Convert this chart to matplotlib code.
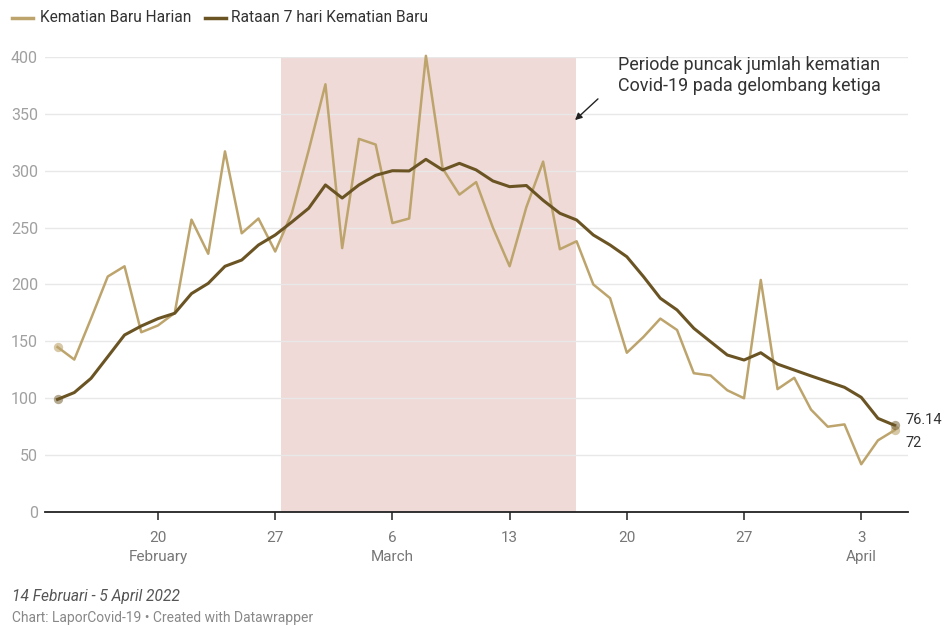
import numpy as np
import pandas as pd
import matplotlib as mpl
mpl.use('Agg')
import matplotlib.pyplot as plt
import matplotlib.dates as mdates

## data (14 Feb - 5 Apr 2022)
dates = pd.date_range('2022-02-14', '2022-04-05', freq='D')
daily = [145, 134, 170, 207, 216, 158, 164, 175, 257, 227,
         317, 245, 258, 229, 263, 318, 376, 232, 328, 323,
         254, 258, 401, 302, 279, 290, 250, 216, 268, 308,
         231, 238, 200, 188, 140, 154, 170, 160, 122, 120,
         107, 100, 204, 108, 118, 90, 75, 77, 42, 63,
         72]
avg7 = [99, 105, 117.5, 136.5, 155.6, 163.5, 170, 174.7, 192, 201,
        216, 221.5, 234.7, 243.5, 255, 267, 287.5, 276, 287.5, 296,
        300, 299.8, 310, 300.7, 306.5, 300.7, 291, 286, 287, 274,
        262.6, 256.7, 243.5, 234.7, 224.4, 206.8, 187.9, 177.6, 161.5, 149.7,
        138, 133.6, 140, 130, 124.8, 119.6, 114.6, 109.6, 100.8, 82.3,
        76.14]
peak_start = pd.Timestamp('2022-02-27 08:00')
peak_end = pd.Timestamp('2022-03-16 23:00')
yticks = [0, 50, 100, 150, 200, 250, 300, 350, 400]
xticks = ['2022-02-20', '2022-02-27', '2022-03-06', '2022-03-13',
          '2022-03-20', '2022-03-27', '2022-04-03']
xlabels = ['20\nFebruary', '27', '6\nMarch', '13', '20', '27', '3\nApril']

light = '#bda46c'
dark = '#6b5424'
shade = '#efdad7'

plt.rcParams['font.family'] = ['Roboto', 'DejaVu Sans']

fig = plt.figure(figsize=(9.47, 6.26), dpi=100)
ax = fig.add_axes([0.0475, 0.1821, 0.9113, 0.7269])

ax.axvspan(peak_start, peak_end, color=shade, lw=0, zorder=0)
for v in yticks[1:]:
    ax.axhline(v, color='#e8e8e8', lw=1, zorder=1)

ax.plot(dates, daily, color=light, lw=1.8, zorder=3, clip_on=False)
ax.plot(dates, avg7, color=dark, lw=2.2, zorder=4, clip_on=False)
# end point dots
ax.scatter([dates[0], dates[-1]], [daily[0], daily[-1]], s=45, color=light, alpha=0.6, lw=0, zorder=5, clip_on=False)
ax.scatter([dates[0], dates[-1]], [avg7[0], avg7[-1]], s=45, color=dark, alpha=0.5, lw=0, zorder=5, clip_on=False)

ax.set_xlim(dates[0] - pd.Timedelta(hours=18), dates[-1] + pd.Timedelta(hours=19))
ax.set_ylim(0, 400)
ax.set_yticks(yticks)
ax.set_yticklabels([str(v) for v in yticks], color='#a0a0a0', fontsize=11.5)
ax.tick_params(axis='y', length=0, pad=5)
ax.set_xticks(pd.to_datetime(xticks))
ax.set_xticklabels(xlabels, color='#777777', fontsize=11, linespacing=1.45)
ax.tick_params(axis='x', length=6, width=1.2, color='#333333', pad=8)
for s in ['top', 'right', 'left']:
    ax.spines[s].set_visible(False)
ax.spines['bottom'].set_color('#222222')
ax.spines['bottom'].set_linewidth(1.3)

# end labels
ax.annotate('76.14', (dates[-1], avg7[-1]), xytext=(8, 4), textcoords='offset points',
            fontsize=10.5, color='#333333', va='center', annotation_clip=False)
ax.annotate('72', (dates[-1], daily[-1]), xytext=(8, -9), textcoords='offset points',
            fontsize=10.5, color='#333333', va='center', annotation_clip=False)

# peak note
fig.text(0.6525, 0.91, 'Periode puncak jumlah kematian\nCovid-19 pada gelombang ketiga',
         fontsize=13, color='#333333', va='top', linespacing=1.2)
fig.add_artist(mpl.patches.FancyArrowPatch((600 / 947, 1 - 97 / 626), (573 / 947, 1 - 122 / 626),
                                           transform=fig.transFigure, arrowstyle='-|>',
                                           mutation_scale=10, color='#222222', lw=1))

# legend on top
fig.add_artist(mpl.lines.Line2D([12 / 947, 33 / 947], [1 - 18 / 626] * 2, color=light, lw=2.5))
fig.text(40 / 947, 1 - 18 / 626, 'Kematian Baru Harian', fontsize=11.2, color='#333333', va='center')
fig.add_artist(mpl.lines.Line2D([205 / 947, 226 / 947], [1 - 18 / 626] * 2, color=dark, lw=2.5))
fig.text(231 / 947, 1 - 18 / 626, 'Rataan 7 hari Kematian Baru', fontsize=11.2, color='#333333', va='center')

# footer
fig.text(12 / 947, 1 - 596 / 626, '14 Februari - 5 April 2022', fontsize=11.2, color='#555555',
         style='italic', va='center')
fig.text(12 / 947, 1 - 618 / 626, 'Chart: LaporCovid-19 \u2022 Created with Datawrapper', fontsize=10,
         color='#888888', va='center')

fig.savefig('out.png', dpi=100, facecolor='white')
